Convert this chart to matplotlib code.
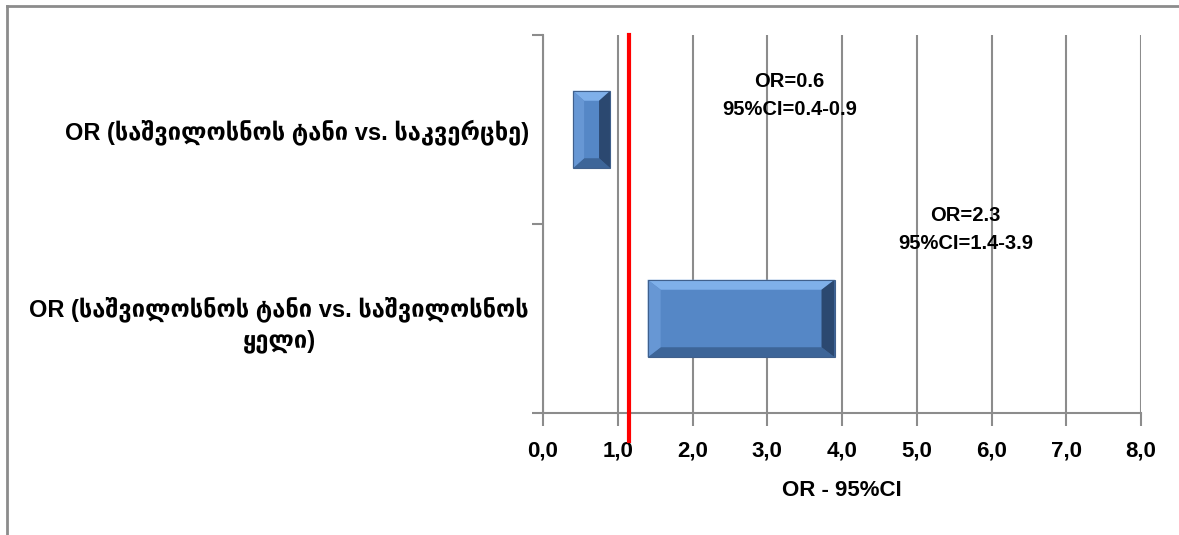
import matplotlib.pyplot as plt
from matplotlib.patches import Polygon, Rectangle
from matplotlib.lines import Line2D

# categories, bottom to top
labels = ["OR (საშვილოსნოს ტანი vs. საშვილოსნოს\nყელი)",
          "OR (საშვილოსნოს ტანი vs. საკვერცხე)"]
odds = [2.3, 0.6]
ci_low = [1.4, 0.4]
ci_high = [3.9, 0.9]
ref_line = 1.15
xticks = [0, 1, 2, 3, 4, 5, 6, 7, 8]
xtick_labels = ["0,0", "1,0", "2,0", "3,0", "4,0", "5,0", "6,0", "7,0", "8,0"]
annot_pos = [(5.65, 0.47), (3.3, 1.18)]  # (x, y) of the annotation text centres

fam = ['Liberation Sans', 'DejaVu Sans']
grey = '#8c8c8c'

fig = plt.figure(figsize=(11.79, 5.35), dpi=100)
ax = fig.add_axes([543 / 1179, 1 - 413 / 535, 598 / 1179, 378 / 535])

ax.set_xlim(0, 8)
ax.set_ylim(-0.5, 1.5)

# bars with a simple bevel
bh = 0.41
bx = 13 * 8 / 598
by = 10 * 2 / 378
for i in range(len(labels)):
    x0, x1 = ci_low[i], ci_high[i]
    y0, y1 = i - bh / 2, i + bh / 2
    bxi = min(bx, (x1 - x0) * 0.3)
    ax.add_patch(Rectangle((x0, y0), x1 - x0, y1 - y0, facecolor='#5587c6',
                           edgecolor='none', zorder=3))
    # top
    ax.add_patch(Polygon([(x0, y1), (x1, y1), (x1 - bxi, y1 - by), (x0 + bxi, y1 - by)],
                         closed=True, facecolor='#7fb0ea', edgecolor='none', zorder=4))
    # bottom
    ax.add_patch(Polygon([(x0, y0), (x1, y0), (x1 - bxi, y0 + by), (x0 + bxi, y0 + by)],
                         closed=True, facecolor='#3d6598', edgecolor='none', zorder=4))
    # left
    ax.add_patch(Polygon([(x0, y0), (x0, y1), (x0 + bxi, y1 - by), (x0 + bxi, y0 + by)],
                         closed=True, facecolor='#6797d4', edgecolor='none', zorder=4))
    # right
    ax.add_patch(Polygon([(x1, y0), (x1, y1), (x1 - bxi, y1 - by), (x1 - bxi, y0 + by)],
                         closed=True, facecolor='#2b4870', edgecolor='none', zorder=4))
    ax.add_patch(Rectangle((x0, y0), x1 - x0, y1 - y0, facecolor='none',
                           edgecolor='#40608c', linewidth=0.8, zorder=5))

# annotations
for i in range(len(labels)):
    ax.text(annot_pos[i][0], annot_pos[i][1],
            "OR=%.1f\n95%%CI=%.1f-%.1f" % (odds[i], ci_low[i], ci_high[i]),
            ha='center', va='center', fontsize=14.5, fontweight='bold',
            family=fam, linespacing=1.6, zorder=6)

# reference line
ax.add_line(Line2D([ref_line, ref_line], [1.5, -0.65], color='#ff0000',
                   linewidth=3, clip_on=False, zorder=7))

# grid and axes
ax.set_xticks(xticks)
ax.set_xticklabels(xtick_labels, fontsize=16, fontweight='bold', family=fam)
ax.xaxis.grid(True, color=grey, linewidth=1.5, zorder=1)
ax.set_axisbelow(True)
ax.tick_params(axis='x', length=9, width=1.5, color=grey, pad=11)

ax.set_yticks([-0.5, 0.5, 1.5])
ax.set_yticklabels([])
ax.set_yticks([0, 1], minor=True)
ax.set_yticklabels(labels, minor=True, fontsize=17, fontweight='bold', family=fam,
                   multialignment='center', linespacing=1.4)
ax.tick_params(axis='y', which='major', length=8, width=1.5, color=grey)
ax.tick_params(axis='y', which='minor', length=0, pad=10)

for s in ['top', 'right']:
    ax.spines[s].set_visible(False)
for s in ['left', 'bottom']:
    ax.spines[s].set_color(grey)
    ax.spines[s].set_linewidth(1.5)

ax.set_xlabel("OR - 95%CI", fontsize=16, fontweight='bold', family=fam, labelpad=13)

# chart area border (partly visible)
fig.add_artist(Line2D([7 / 1179, 7 / 1179], [0, 1 - 6 / 535], color=grey, linewidth=2,
                      transform=fig.transFigure))
fig.add_artist(Line2D([7 / 1179, 1], [1 - 6 / 535, 1 - 6 / 535], color=grey, linewidth=2,
                      transform=fig.transFigure))

fig.savefig('out.png', dpi=100)
